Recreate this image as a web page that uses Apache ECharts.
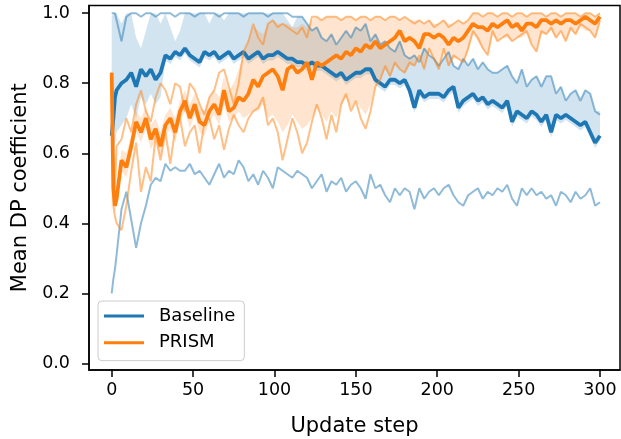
<!DOCTYPE html>
<html><head><meta charset="utf-8">
<script src="https://cdn.jsdelivr.net/npm/echarts@6/dist/echarts.min.js"></script>
<style>html,body{margin:0;padding:0;background:#fff}#c{width:621px;height:439px}</style>
</head><body><div id="c"></div>
<script>
const steps = [0,1,2,
 3,6,9,12,15,18,21,24,27,30,
 33,36,39,42,45,48,51,54,57,60,
 63,66,69,72,75,78,81,84,87,90,
 93,96,99,102,105,108,111,114,117,120,
 123,126,129,132,135,138,141,144,147,150,
 153,156,159,162,165,168,171,174,177,180,
 183,186,189,192,195,198,201,204,207,210,
 213,216,219,222,225,228,231,234,237,240,
 243,246,249,252,255,258,261,264,267,270,
 273,276,279,282,285,288,291,294,297,300];

const baselineMean = [0.65,0.70,0.76,
 0.78,0.80,0.81,0.83,0.79,0.84,0.82,0.84,0.81,0.83,
 0.88,0.87,0.89,0.88,0.90,0.88,0.87,0.86,0.89,0.88,
 0.89,0.87,0.88,0.89,0.87,0.88,0.89,0.87,0.88,0.89,
 0.87,0.88,0.88,0.89,0.88,0.87,0.87,0.86,0.86,0.85,
 0.86,0.85,0.85,0.84,0.83,0.82,0.83,0.81,0.82,0.83,
 0.83,0.84,0.84,0.81,0.80,0.79,0.81,0.81,0.80,0.81,
 0.78,0.73,0.78,0.76,0.77,0.77,0.77,0.76,0.78,0.79,
 0.73,0.75,0.76,0.77,0.75,0.76,0.74,0.75,0.74,0.73,
 0.75,0.69,0.72,0.71,0.70,0.72,0.71,0.69,0.71,0.66,
 0.71,0.70,0.71,0.70,0.69,0.68,0.69,0.66,0.63,0.65];

const baselineRunHigh = [1.0,1.0,1.0,
 1.0,0.92,0.99,1.0,1.0,0.99,1.0,1.0,0.99,1.0,
 1.0,1.0,0.99,1.0,1.0,1.0,0.99,1.0,1.0,1.0,
 1.0,0.99,1.0,1.0,1.0,1.0,0.99,1.0,1.0,1.0,
 1.0,0.99,1.0,1.0,1.0,1.0,0.99,0.99,0.99,0.97,
 0.95,0.96,0.93,0.92,0.94,0.91,0.93,0.95,0.93,0.96,
 0.95,0.97,0.92,0.94,0.91,0.92,0.90,0.89,0.92,0.88,
 0.87,0.88,0.86,0.90,0.88,0.87,0.85,0.87,0.89,0.85,
 0.84,0.87,0.85,0.87,0.84,0.86,0.84,0.83,0.83,0.84,
 0.85,0.82,0.80,0.84,0.79,0.81,0.82,0.79,0.82,0.82,
 0.77,0.79,0.75,0.77,0.78,0.75,0.78,0.77,0.72,0.71];

const baselineRunLow = [0.20,0.24,0.27,
 0.31,0.44,0.49,0.41,0.33,0.40,0.45,0.51,0.53,0.52,
 0.57,0.55,0.56,0.55,0.55,0.57,0.54,0.55,0.53,0.51,
 0.54,0.57,0.53,0.55,0.54,0.58,0.56,0.52,0.54,0.51,
 0.55,0.53,0.50,0.56,0.55,0.54,0.53,0.55,0.54,0.53,
 0.50,0.52,0.54,0.49,0.52,0.51,0.53,0.49,0.51,0.52,
 0.50,0.47,0.54,0.50,0.51,0.48,0.46,0.50,0.48,0.50,
 0.49,0.44,0.50,0.47,0.49,0.50,0.48,0.50,0.51,0.48,
 0.46,0.45,0.48,0.49,0.50,0.47,0.49,0.48,0.50,0.49,
 0.51,0.47,0.45,0.50,0.48,0.50,0.48,0.49,0.47,0.48,
 0.45,0.49,0.48,0.46,0.49,0.47,0.48,0.50,0.45,0.46];

const baselineBandLow = [0.42,0.60,0.63,
 0.66,0.68,0.70,0.74,0.70,0.76,0.74,0.77,0.74,0.76,
 0.865,0.855,0.875,0.865,0.885,0.865,0.855,0.845,0.875,0.865,
 0.875,0.855,0.865,0.875,0.855,0.865,0.875,0.855,0.865,0.875,
 0.855,0.865,0.865,0.875,0.865,0.855,0.855,0.845,0.845,0.835,
 0.845,0.835,0.835,0.825,0.815,0.805,0.815,0.795,0.805,0.815,
 0.815,0.825,0.825,0.795,0.785,0.775,0.795,0.795,0.785,0.795,
 0.765,0.715,0.765,0.745,0.755,0.755,0.755,0.745,0.765,0.775,
 0.715,0.735,0.745,0.755,0.735,0.745,0.725,0.735,0.725,0.715,
 0.735,0.675,0.705,0.695,0.685,0.705,0.695,0.675,0.695,0.645,
 0.695,0.685,0.695,0.685,0.675,0.665,0.675,0.645,0.615,0.635];

const baselineBandHigh = [0.99,1.0,1.0,
 1.0,0.97,1.0,1.0,0.93,0.90,0.95,1.0,1.0,0.97,
 1.0,0.96,0.92,0.95,1.0,1.0,1.0,1.0,1.0,0.97,
 1.0,1.0,0.98,1.0,1.0,1.0,1.0,1.0,1.0,1.0,
 1.0,1.0,1.0,1.0,1.0,0.98,0.96,0.99,0.99,0.97,
 0.95,0.96,0.93,0.92,0.94,0.91,0.93,0.95,0.93,0.96,
 0.95,0.97,0.92,0.94,0.91,0.92,0.90,0.89,0.92,0.88,
 0.87,0.88,0.86,0.90,0.88,0.87,0.85,0.87,0.89,0.85,
 0.84,0.87,0.85,0.87,0.84,0.86,0.84,0.83,0.83,0.84,
 0.85,0.82,0.80,0.84,0.79,0.81,0.82,0.79,0.82,0.82,
 0.77,0.79,0.75,0.77,0.78,0.75,0.78,0.77,0.72,0.72];

const prismMean = [0.83,0.50,0.45,
 0.47,0.58,0.56,0.62,0.69,0.66,0.70,0.64,0.67,0.62,
 0.68,0.70,0.66,0.72,0.75,0.70,0.74,0.69,0.68,0.72,
 0.74,0.71,0.78,0.72,0.73,0.76,0.75,0.77,0.81,0.79,
 0.82,0.83,0.84,0.82,0.78,0.84,0.85,0.83,0.84,0.86,
 0.81,0.86,0.85,0.86,0.87,0.88,0.87,0.89,0.88,0.90,
 0.89,0.91,0.90,0.92,0.90,0.91,0.92,0.93,0.95,0.92,
 0.93,0.92,0.90,0.94,0.94,0.93,0.94,0.93,0.91,0.93,
 0.92,0.93,0.95,0.97,0.96,0.96,0.95,0.97,0.96,0.97,
 0.98,0.96,0.97,0.95,0.97,0.97,0.96,0.98,0.98,0.97,
 0.98,0.97,0.98,0.98,0.97,0.98,0.99,0.98,0.97,0.99];

const prismRunHigh = [0.83,0.55,0.50,
 0.62,0.64,0.70,0.66,0.74,0.78,0.72,0.69,0.76,0.80,
 0.78,0.74,0.80,0.79,0.72,0.80,0.78,0.74,0.71,0.76,
 0.78,0.83,0.84,0.79,0.74,0.80,0.89,0.92,0.97,0.93,
 0.91,0.97,0.98,0.96,0.97,0.96,0.95,0.94,0.96,0.93,
 0.99,0.99,0.98,0.99,0.99,0.99,0.98,0.99,0.99,0.98,
 0.99,0.99,0.98,0.99,0.99,0.98,0.99,0.99,0.98,0.99,
 0.98,0.97,0.98,0.97,0.98,0.96,0.97,0.98,0.96,0.97,
 0.98,0.97,0.98,1.00,1.00,0.99,1.00,1.00,0.99,1.00,
 1.00,0.99,1.00,1.00,0.99,1.00,1.00,1.00,0.99,1.00,
 1.00,0.99,1.00,1.00,1.00,0.99,1.00,1.00,0.99,1.00];

const prismRunLow = [0.83,0.45,0.42,
 0.40,0.38,0.45,0.55,0.63,0.49,0.56,0.52,0.65,0.58,
 0.66,0.57,0.67,0.70,0.62,0.66,0.68,0.60,0.69,0.70,
 0.64,0.68,0.61,0.67,0.71,0.68,0.66,0.70,0.72,0.73,
 0.76,0.68,0.70,0.66,0.58,0.64,0.70,0.66,0.60,0.63,
 0.69,0.74,0.70,0.64,0.71,0.66,0.74,0.77,0.72,0.75,
 0.70,0.67,0.72,0.79,0.81,0.85,0.82,0.86,0.84,0.83,
 0.86,0.85,0.88,0.84,0.90,0.87,0.84,0.90,0.85,0.88,
 0.87,0.86,0.90,0.95,0.93,0.90,0.88,0.95,0.92,0.93,
 0.94,0.92,0.93,0.94,0.95,0.91,0.89,0.95,0.94,0.96,
 0.93,0.95,0.92,0.96,0.94,0.97,0.96,0.95,0.93,0.98];

const prismBandLow = [0.80,0.47,0.43,
 0.45,0.55,0.53,0.59,0.66,0.63,0.67,0.61,0.64,0.59,
 0.65,0.67,0.63,0.69,0.72,0.67,0.71,0.66,0.65,0.69,
 0.71,0.68,0.74,0.69,0.70,0.72,0.70,0.71,0.72,0.72,
 0.74,0.70,0.71,0.69,0.66,0.68,0.71,0.69,0.67,0.68,
 0.70,0.73,0.71,0.69,0.72,0.70,0.74,0.76,0.73,0.75,
 0.73,0.71,0.74,0.79,0.81,0.84,0.82,0.85,0.84,0.83,
 0.85,0.85,0.87,0.84,0.89,0.87,0.84,0.89,0.85,0.87,
 0.87,0.86,0.89,0.94,0.92,0.90,0.88,0.94,0.92,0.93,
 0.93,0.92,0.93,0.93,0.94,0.91,0.89,0.94,0.94,0.95,
 0.93,0.95,0.92,0.95,0.94,0.96,0.95,0.95,0.93,0.97];

const prismBandHigh = [0.86,0.53,0.48,
 0.50,0.61,0.60,0.65,0.72,0.70,0.73,0.68,0.70,0.66,
 0.71,0.73,0.70,0.75,0.78,0.74,0.77,0.73,0.72,0.76,
 0.78,0.76,0.82,0.78,0.80,0.84,0.88,0.92,0.96,0.95,
 0.94,0.97,0.98,0.97,0.97,0.97,0.96,0.96,0.97,0.96,
 0.98,0.99,0.98,0.99,0.99,0.99,0.98,0.99,0.99,0.98,
 0.99,0.99,0.98,0.99,0.99,0.98,0.99,0.99,0.98,0.99,
 0.98,0.98,0.98,0.97,0.98,0.97,0.97,0.98,0.97,0.97,
 0.98,0.97,0.98,1.00,1.00,0.99,1.00,1.00,0.99,1.00,
 1.00,0.99,1.00,1.00,0.99,1.00,1.00,1.00,0.99,1.00,
 1.00,0.99,1.00,1.00,1.00,0.99,1.00,1.00,0.99,1.00];

const xTicks = [0, 50, 100, 150, 200, 250, 300];
const yTicks = [0, 0.2, 0.4, 0.6, 0.8, 1.0];

const BLUE = '#1f77b4', ORANGE = '#ff7f0e';
const FONT = 'DejaVu Sans';

function pts(arr) { return steps.map((s, i) => [s, arr[i]]); }

// Band drawn as one polygon whose vertices come from the axes' own scales (api.coord)
function band(id, lo, hi, color) {
  return {
    name: id, type: 'custom', silent: true, z: 2, clip: true,
    data: [[steps[0], lo[0]]],
    renderItem: function (params, api) {
      const top = steps.map((s, i) => api.coord([s, hi[i]]));
      const bottom = steps.map((s, i) => api.coord([s, lo[i]])).reverse();
      return { type: 'polygon', shape: { points: top.concat(bottom) },
        style: { fill: color, opacity: 0.2, stroke: null } };
    }
  };
}
function thin(name, arr, color) {
  return { name: name, type: 'line', data: pts(arr), symbol: 'none', silent: true, z: 2,
    lineStyle: { color: color, width: 2, opacity: 0.5 }, itemStyle: { color: color } };
}
function thick(name, arr, color) {
  return { name: name, type: 'line', data: pts(arr), symbol: 'none', silent: true, z: 2,
    lineStyle: { color: color, width: 3.8 }, itemStyle: { color: color } };
}

const series = [
  band('bband', baselineBandLow, baselineBandHigh, BLUE),
  thin('b-run1', baselineRunHigh, BLUE), thin('b-run2', baselineRunLow, BLUE), thick('Baseline', baselineMean, BLUE),
  band('pband', prismBandLow, prismBandHigh, ORANGE),
  thin('p-run1', prismRunHigh, ORANGE), thin('p-run2', prismRunLow, ORANGE), thick('PRISM', prismMean, ORANGE)
];

const chart = echarts.init(document.getElementById('c'), null, { renderer: 'canvas' });
chart.setOption({
  animation: false,
  backgroundColor: '#fff',
  grid: { left: 89, top: 5.5, width: 531, height: 364.5, show: true, borderColor: '#000', borderWidth: 1.5,
    containLabel: false, outerBoundsMode: 'none' },
  xAxis: {
    type: 'value', min: -13.95, max: 312.3,
    name: 'Update step', nameLocation: 'middle', nameGap: 46,
    nameTextStyle: { fontSize: 21, color: '#000', fontFamily: FONT },
    axisLine: { show: true, onZero: false, lineStyle: { color: '#000', width: 1.5 } },
    axisTick: { show: true, length: 7, lineStyle: { color: '#000', width: 1.5 }, customValues: xTicks },
    axisLabel: { customValues: xTicks, fontSize: 17.5, color: '#000', fontFamily: FONT, margin: 11 },
    splitLine: { show: false }
  },
  yAxis: {
    type: 'value', min: -0.019, max: 1.022,
    name: 'Mean DP coefficient', nameLocation: 'middle', nameGap: 58, nameRotate: 90,
    nameTextStyle: { fontSize: 21, color: '#000', fontFamily: FONT },
    axisLine: { show: true, onZero: false, lineStyle: { color: '#000', width: 1.5 } },
    axisTick: { show: true, length: 7, lineStyle: { color: '#000', width: 1.5 }, customValues: yTicks },
    axisLabel: { customValues: yTicks, fontSize: 17.5, color: '#000', fontFamily: FONT, margin: 19,
      formatter: v => Number(v).toFixed(1) },
    splitLine: { show: false }
  },
  legend: {
    data: ['Baseline', 'PRISM'], orient: 'vertical', left: 98, top: 301,
    icon: 'rect', itemWidth: 40, itemHeight: 3, itemGap: 8.7,
    padding: [6, 9, 9, 6],
    backgroundColor: 'rgba(255,255,255,0.8)', borderColor: '#cccccc', borderWidth: 1, borderRadius: 4,
    textStyle: { fontSize: 18, color: '#000', fontFamily: FONT, padding: [0, 0, 0, 10] },
    selectedMode: false
  },
  series: series
});
</script>
</body></html>
